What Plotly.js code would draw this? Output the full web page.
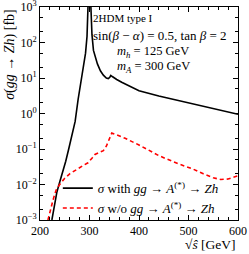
<!DOCTYPE html>
<html><head><meta charset="utf-8">
<script src="https://cdn.plot.ly/plotly-3.0.1.min.js"></script>
<style>body{margin:0;background:#fff}#g{width:249px;height:254px}</style>
</head><body><div id="g"></div>
<script>
// sqrt(s) [GeV] and sigma [fb] for the curve with gg -> A(*) -> Zh
const sWith = [224, 229, 234, 240, 245, 252, 258, 264, 271, 277, 283, 288, 292, 295, 297, 298.5, 300, 301.5, 303, 305, 308, 312, 316, 322, 328, 334, 338, 341, 343, 346, 350, 355, 365, 380, 400, 440, 480, 520, 560, 600];
const sigWith = [0.001, 0.0025, 0.006, 0.012, 0.02, 0.045, 0.1, 0.25, 0.6, 2.5, 8, 18.7, 50, 150, 600, 3000, 20000, 3000, 400, 166, 60, 35, 25, 16, 12, 10, 9.6, 10.5, 11.8, 11, 10, 9.1, 7.6, 6, 4.4, 3.1, 2.3, 1.7, 1.25, 0.95];
// curve without gg -> A(*) -> Zh
const sWo = [216, 221, 226, 230, 234, 242, 250, 260, 270, 277, 287, 297, 305, 311, 320, 328, 334, 340, 345, 355, 372, 400, 440, 480, 507, 530, 550, 565, 580, 600];
const sigWo = [0.001, 0.002, 0.0035, 0.0055, 0.0078, 0.011, 0.015, 0.02, 0.025, 0.028, 0.034, 0.041, 0.055, 0.07, 0.08, 0.09, 0.12, 0.19, 0.28, 0.25, 0.2, 0.13, 0.065, 0.038, 0.028, 0.02, 0.0155, 0.0138, 0.0143, 0.0175];
const yTickVals = [1e-3, 1e-2, 1e-1, 1, 10, 100, 1000];
const yTickText = ['10<sup>−3</sup>', '10<sup>−2</sup>', '10<sup>−1</sup>', '10<sup>0</sup>', '10<sup>1</sup>', '10<sup>2</sup>', '10<sup>3</sup>'];
const xTickVals = [200, 300, 400, 500, 600];
const nameWith = '<i>σ</i> with <i>gg</i> → <i>A</i><sup>(*)</sup> → <i>Zh</i>';
const nameWo = '<i>σ</i> w/o <i>gg</i> → <i>A</i><sup>(*)</sup> → <i>Zh</i>';
const infoLines = ['2HDM type I', 'sin(<i>β</i> − <i>α</i>) = 0.5, tan <i>β</i> = 2', '<i>m<sub>h</sub></i> = 125 GeV', '<i>m<sub>A</sub></i> = 300 GeV'];

const serif = 'Liberation Serif, DejaVu Serif, serif';
const traces = [
  {x: sWith, y: sigWith, mode: 'lines', name: nameWith, line: {color: '#000', width: 1.6}},
  {x: sWo, y: sigWo, mode: 'lines', name: nameWo, line: {color: '#ff0000', width: 1.6, dash: '4px,3px'}}
];
const axCommon = {showline: true, linecolor: '#000', linewidth: 1, mirror: 'allticks', ticks: 'inside', ticklen: 5, tickcolor: '#000', showgrid: false, zeroline: false, ticklabeloverflow: 'allow', tickfont: {family: serif, size: 12, color: '#000'}};
const layout = {
  width: 249, height: 254,
  margin: {l: 40, r: 11, t: 7, b: 34},
  paper_bgcolor: '#fff', plot_bgcolor: '#fff',
  font: {family: serif, color: '#000'},
  showlegend: true,
  legend: {x: 0.09, y: 0.22, xanchor: 'left', yanchor: 'top', bgcolor: 'rgba(255,255,255,0)', font: {family: serif, size: 13}, tracegroupgap: 0, itemwidth: 30},
  xaxis: Object.assign({}, axCommon, {range: [200, 600], tickvals: xTickVals, ticktext: xTickVals.map(String), minor: {dtick: 20, ticks: 'inside', ticklen: 3, tickcolor: '#000'}}),
  yaxis: Object.assign({}, axCommon, {type: 'log', range: [-3, 3], tickvals: yTickVals, ticktext: yTickText, minor: {ticks: 'inside', ticklen: 3, tickcolor: '#000', showgrid: false}}),
  annotations: [
    {xref: 'paper', yref: 'paper', x: -0.155, y: 1.0, xanchor: 'center', yanchor: 'top', textangle: -90, showarrow: false, text: '<i>σ</i>(<i>gg</i> → <i>Zh</i>) [fb]', font: {family: serif, size: 14}},
    {xref: 'paper', yref: 'paper', x: 1.0, y: -0.158, xanchor: 'right', yanchor: 'bottom', showarrow: false, text: '√<i>ŝ</i> [GeV]', font: {family: serif, size: 13.5}},
    {xref: 'paper', yref: 'paper', x: 0.26, y: 0.985, xanchor: 'left', yanchor: 'top', showarrow: false, align: 'left', text: infoLines[0], font: {family: serif, size: 11}},
    {xref: 'paper', yref: 'paper', x: 0.26, y: 0.91, xanchor: 'left', yanchor: 'top', showarrow: false, align: 'left', text: infoLines[1], font: {family: serif, size: 13}},
    {xref: 'paper', yref: 'paper', x: 0.38, y: 0.835, xanchor: 'left', yanchor: 'top', showarrow: false, align: 'left', text: infoLines[2], font: {family: serif, size: 12.5}},
    {xref: 'paper', yref: 'paper', x: 0.38, y: 0.765, xanchor: 'left', yanchor: 'top', showarrow: false, align: 'left', text: infoLines[3], font: {family: serif, size: 12.5}}
  ]
};
Plotly.newPlot('g', traces, layout, {staticPlot: true, displayModeBar: false});
</script></body></html>
